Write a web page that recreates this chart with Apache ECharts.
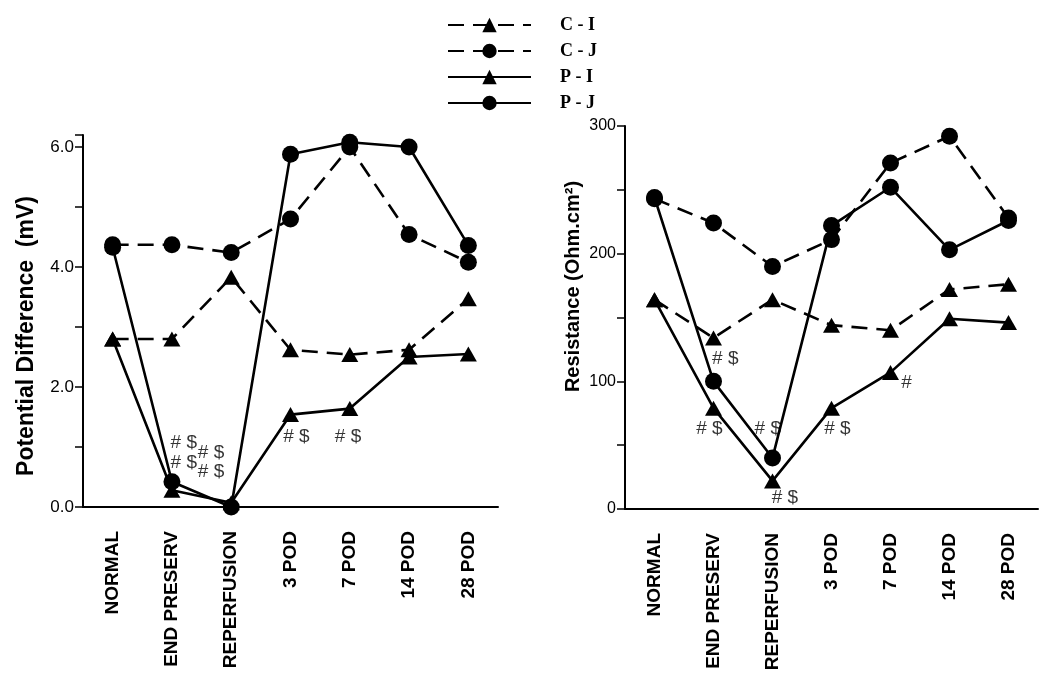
<!DOCTYPE html>
<html>
<head>
<meta charset="utf-8">
<script src="https://cdn.jsdelivr.net/npm/echarts@6/dist/echarts.min.js"></script>
<style>html,body{margin:0;padding:0;background:#fff}#c{width:1050px;height:683px}</style>
</head>
<body>
<div id="c"></div>
<script>
// ---- data ----
const categories = ['NORMAL', 'END PRESERV', 'REPERFUSION', '3 POD', '7 POD', '14 POD', '28 POD'];
const seriesNames = ['C - I', 'C - J', 'P - I', 'P - J'];

// Potential Difference (mV)
const pdCI = [2.80, 2.80, 3.83, 2.62, 2.54, 2.62, 3.47];
const pdCJ = [4.37, 4.37, 4.24, 4.80, 6.00, 4.54, 4.08];
const pdPI = [2.80, 0.28, 0.07, 1.54, 1.64, 2.50, 2.55];
const pdPJ = [4.33, 0.42, 0.00, 5.88, 6.08, 6.00, 4.36];

// Resistance (Ohm.cm2)
const resCI = [164, 134, 164, 144, 140, 172, 176];
const resCJ = [243, 224, 190, 211, 271, 292, 228];
const resPI = [164, 79, 22, 79, 107, 149, 146];
const resPJ = [244, 100, 40, 222, 252, 203, 226];

// y-axis tick labels
const pdTickLabels = ['0.0', '2.0', '4.0', '6.0'];
const resTickLabels = ['0', '100', '200', '300'];

// significance notes: [category position, value, text]
const pdNotes = [[1.2, 1.07, '# $'], [1.2, 0.74, '# $'], [1.66, 0.90, '# $'], [1.66, 0.58, '# $'], [3.1, 1.17, '# $'], [3.97, 1.17, '# $']];
const resNotes = [[1.2, 118, '# $'], [0.93, 63, '# $'], [1.92, 63, '# $'], [2.21, 9, '# $'], [3.1, 63, '# $'], [4.27, 99, '#']];

// ---- chart ----
const chart = echarts.init(document.getElementById('c'));
const BLACK = '#000';
const SANS = 'Liberation Sans, Arial, sans-serif';

function catAxis(gridIndex) {
  return {
    type: 'category', gridIndex, data: categories, boundaryGap: true,
    axisLine: {onZero: false, lineStyle: {color: BLACK, width: 2}},
    axisTick: {alignWithLabel: true, length: 10, lineStyle: {color: BLACK, width: 2}},
    axisLabel: {rotate: 90, margin: 24, color: BLACK, fontFamily: SANS, fontWeight: 'bold', fontSize: 19, interval: 0},
    splitLine: {show: false}
  };
}
function noteAxis(gridIndex) {
  return {type: 'value', gridIndex, min: -0.5, max: 6.5, show: false, splitLine: {show: false}};
}
function lineSeries(name, data, xi, yi) {
  const dashed = name.startsWith('C');
  const circle = name.endsWith('J');
  return {
    type: 'line', name, data, xAxisIndex: xi, yAxisIndex: yi,
    symbol: circle ? 'circle' : 'triangle',
    symbolSize: circle ? 17 : [17, 15],
    showAllSymbol: true,
    itemStyle: {color: BLACK, borderWidth: 0},
    lineStyle: {color: BLACK, width: 2.6, type: dashed ? [16, 9] : 'solid'},
    emphasis: {disabled: true},
    animation: false
  };
}
function noteSeries(notes, xi, yi) {
  return {
    type: 'scatter', xAxisIndex: xi, yAxisIndex: yi, symbolSize: 0,
    data: notes.map(n => ({value: [n[0], n[1]], name: n[2]})),
    label: {show: true, position: 'inside', formatter: p => p.name, color: BLACK, fontFamily: SANS, fontSize: 19},
    silent: true, animation: false
  };
}
function valueAxis(gridIndex, max, interval, name, labels, nameSize, labelSize, nameGap, namePad) {
  return {
    type: 'value', gridIndex, min: 0, max, interval,
    name, nameLocation: 'middle', nameGap, nameRotate: 90,
    nameTextStyle: {color: BLACK, fontFamily: SANS, fontWeight: 'bold', fontSize: nameSize, padding: namePad},
    axisLine: {show: true, onZero: false, lineStyle: {color: BLACK, width: 2}},
    axisTick: {show: true, length: 8, lineStyle: {color: BLACK, width: 1.5}},
    axisLabel: {color: BLACK, fontFamily: SANS, fontSize: labelSize, margin: 9,
      formatter: v => labels.find(t => Math.abs(parseFloat(t) - v) < 1e-6) || ''},
    splitLine: {show: false}
  };
}

const option = {
  backgroundColor: '#fff',
  animation: false,
  legend: {
    orient: 'vertical', left: 447, top: 16, padding: 0,
    itemWidth: 83, itemHeight: 18, itemGap: 8,
    data: seriesNames,
    textStyle: {fontFamily: 'Liberation Serif, Times New Roman, serif', fontWeight: 'bold', fontSize: 18, color: BLACK, padding: [0, 0, 0, 24]},
    selectedMode: false
  },
  grid: [
    {left: 83, top: 135, width: 415, height: 372, outerBoundsMode: 'none', containLabel: false},
    {left: 625, top: 126, width: 413, height: 383, outerBoundsMode: 'none', containLabel: false}
  ],
  xAxis: [catAxis(0), catAxis(1), noteAxis(0), noteAxis(1)],
  yAxis: [
    valueAxis(0, 6.2, 1, 'Potential Difference  (mV)', pdTickLabels, 23, 17, 45, [0, 30, 0, 0]),
    valueAxis(1, 300, 50, 'Resistance (Ohm.cm²)', resTickLabels, 20, 16, 42, [0, 0, 0, 62])
  ],
  series: [
    lineSeries('C - I', pdCI, 0, 0),
    lineSeries('C - J', pdCJ, 0, 0),
    lineSeries('P - I', pdPI, 0, 0),
    lineSeries('P - J', pdPJ, 0, 0),
    lineSeries('C - I', resCI, 1, 1),
    lineSeries('C - J', resCJ, 1, 1),
    lineSeries('P - I', resPI, 1, 1),
    lineSeries('P - J', resPJ, 1, 1),
    noteSeries(pdNotes, 2, 0),
    noteSeries(resNotes, 3, 1)
  ]
};
chart.setOption(option);
</script>
</body>
</html>
